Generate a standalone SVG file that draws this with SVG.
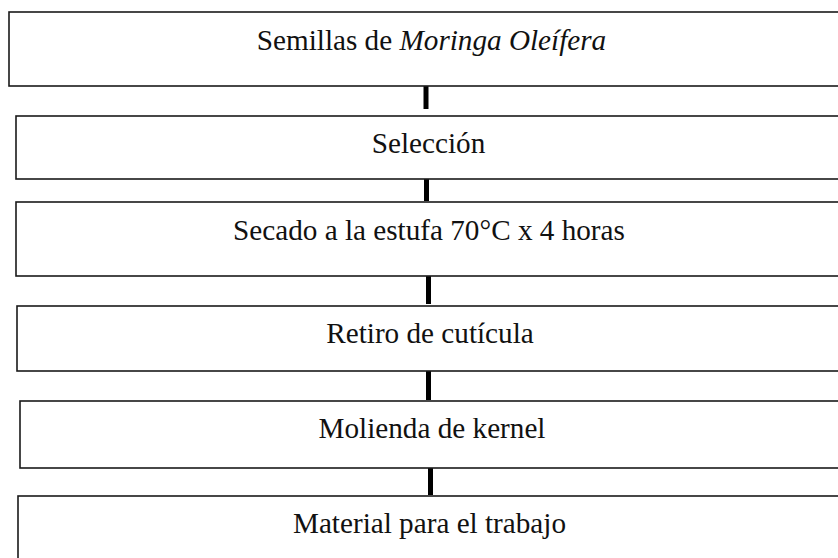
<svg xmlns="http://www.w3.org/2000/svg" width="838" height="558" viewBox="0 0 838 558">
<style>
.box{fill:#fff;stroke:#1a1a1a;stroke-width:1.6}
.lbl{font-family:"Liberation Serif","Times New Roman",serif;font-size:29.2px;fill:#111;text-anchor:middle}
.conn{stroke:#000;stroke-width:5}
</style>
<rect width="838" height="558" fill="#fff"/>
<g id="connectors">
<line class="conn" x1="426" y1="86" x2="426" y2="109"/>
<line class="conn" x1="426.5" y1="179" x2="426.5" y2="201"/>
<line class="conn" x1="428.5" y1="276" x2="428.5" y2="304"/>
<line class="conn" x1="428.5" y1="371" x2="428.5" y2="400"/>
<line class="conn" x1="430.5" y1="468" x2="430.5" y2="495"/>
</g>
<g id="n1"><rect class="box" x="9" y="12" width="850" height="74"/><text class="lbl" x="431.5" y="50">Semillas de <tspan font-style="italic">Moringa Oleífera</tspan></text></g>
<g id="n2"><rect class="box" x="16" y="116" width="850" height="63"/><text class="lbl" x="428.5" y="153">Selección</text></g>
<g id="n3"><rect class="box" x="16" y="202" width="850" height="74"/><text class="lbl" x="429" y="240">Secado a la estufa 70°C x 4 horas</text></g>
<g id="n4"><rect class="box" x="17" y="306" width="850" height="65"/><text class="lbl" x="430" y="343">Retiro de cutícula</text></g>
<g id="n5"><rect class="box" x="20" y="401" width="850" height="67"/><text class="lbl" x="432" y="438">Molienda de kernel</text></g>
<g id="n6"><rect class="box" x="18" y="496" width="850" height="80"/><text class="lbl" x="429.5" y="533">Material para el trabajo</text></g>
</svg>
